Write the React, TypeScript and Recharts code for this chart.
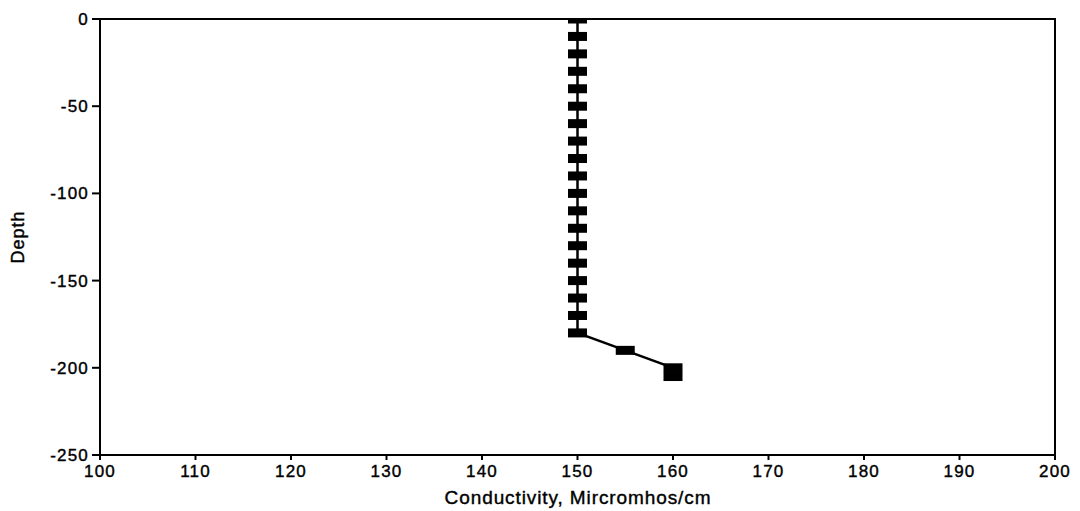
import React from "react";
import {
  ScatterChart,
  Scatter,
  XAxis,
  YAxis,
  ReferenceArea,
  Label,
} from "recharts";

const depths = [0, -10, -20, -30, -40, -50, -60, -70, -80, -90, -100, -110, -120, -130, -140, -150, -160, -170, -180, -190, -200, -205];
const conductivity = [150, 150, 150, 150, 150, 150, 150, 150, 150, 150, 150, 150, 150, 150, 150, 150, 150, 150, 150, 155, 160, 160];
const xTicks = [100, 110, 120, 130, 140, 150, 160, 170, 180, 190, 200];
const yTicks = [0, -50, -100, -150, -200, -250];

const data = depths.map((d, i) => ({ x: conductivity[i], y: d }));

const font = "'Liberation Sans', Arial, sans-serif";
const tickStyle = { fill: "#000", fontSize: 17, letterSpacing: 1.2, stroke: "#000", strokeWidth: 0.4 };

const Marker = (props: any) => {
  const { cx, cy } = props;
  return <rect x={cx - 9.5} y={cy - 4.5} width={19} height={9} fill="#000" />;
};

const DepthLabel = () => (
  <text
    x={18}
    y={237}
    transform="rotate(-90 18 237)"
    textAnchor="middle"
    dominantBaseline="central"
    fill="#000"
    stroke="#000"
    strokeWidth={0.4}
    fontSize={18}
    style={{ letterSpacing: 1 }}
  >
    Depth
  </text>
);

const XLabel = () => (
  <text
    x={578}
    y={497}
    textAnchor="middle"
    dominantBaseline="central"
    fill="#000"
    stroke="#000"
    strokeWidth={0.4}
    fontSize={19}
    style={{ letterSpacing: 0.9 }}
  >
    Conductivity, Mircromhos/cm
  </text>
);

const App: React.FC = () => {
  return (
    <div
      style={{
        position: "fixed",
        top: 0,
        left: 0,
        width: 1080,
        height: 511,
        background: "#fff",
        overflow: "visible",
      }}
    >
      <ScatterChart
        width={1080}
        height={511}
        margin={{ top: 19, right: 25, left: 0, bottom: 0 }}
        style={{ fontFamily: font, overflow: "visible" }}
      >
        <XAxis
          type="number"
          dataKey="x"
          domain={[100, 200]}
          ticks={xTicks}
          height={56}
          tickSize={5}
          tickMargin={5}
          stroke="#000"
          strokeWidth={2}
          tick={tickStyle}
          allowDataOverflow
        >
          <Label content={<XLabel />} />
        </XAxis>
        <YAxis
          type="number"
          dataKey="y"
          domain={[-250, 0]}
          ticks={yTicks}
          width={100}
          tickSize={8}
          tickMargin={3}
          stroke="#000"
          strokeWidth={2}
          tick={tickStyle}
          allowDataOverflow
        >
          <Label content={<DepthLabel />} />
        </YAxis>
        <ReferenceArea
          x1={100}
          x2={200}
          y1={-250}
          y2={0}
          fill="none"
          stroke="#000"
          strokeWidth={2}
        />
        <Scatter
          data={data}
          line={{ stroke: "#000", strokeWidth: 2.5 }}
          shape={<Marker />}
          fill="#000"
          isAnimationActive={false}
        />
      </ScatterChart>
    </div>
  );
};

export default App;
